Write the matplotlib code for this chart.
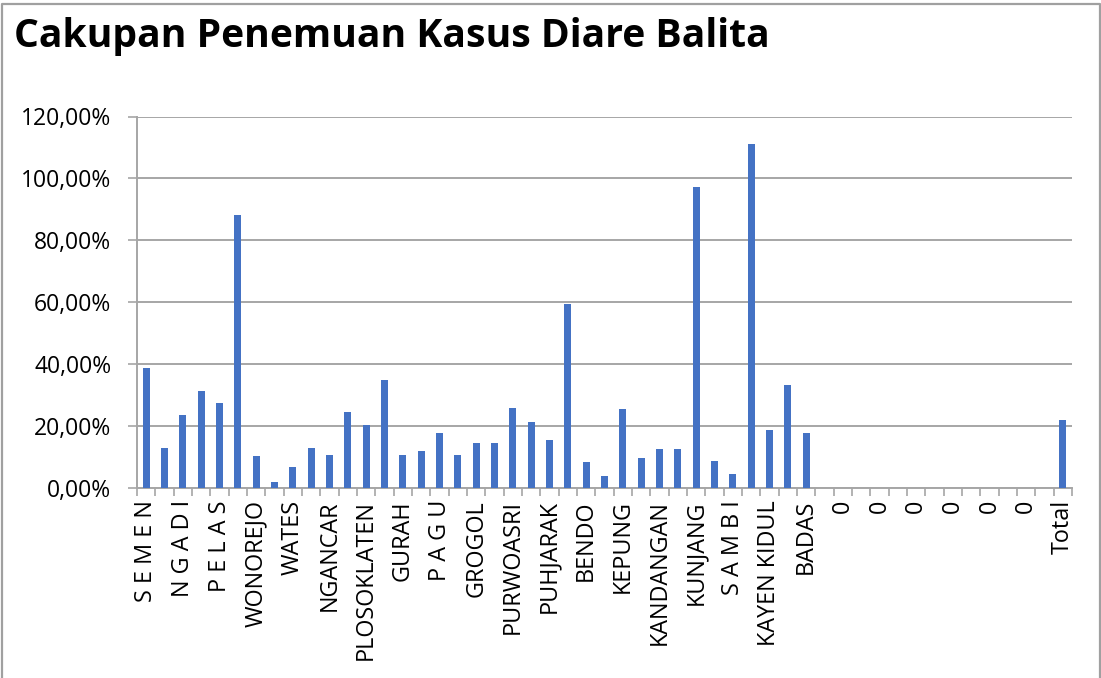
import numpy as np
import matplotlib
matplotlib.use("Agg")
import matplotlib.pyplot as plt
from matplotlib.lines import Line2D

# puskesmas names (only every other one gets a visible label on the axis)
puskesmas = ["S E M E N", "MOJO", "N G A D I", "KRAS", "P E L A S", "RINGINREJO",
             "WONOREJO", "KANDAT", "WATES", "PUNCU", "NGANCAR", "SIDOMULYO",
             "PLOSOKLATEN", "PARE", "GURAH", "BOGO", "P A G U", "TAROKAN",
             "GROGOL", "BANYAKAN", "PURWOASRI", "PAPAR", "PUHJARAK", "PLEMAHAN",
             "BENDO", "TIRON", "KEPUNG", "NGASEM", "KANDANGAN", "GAMPENGREJO",
             "KUNJANG", "KENCONG", "S A M B I", "ADAN ADAN", "KAYEN KIDUL",
             "SUMBERSARI", "BADAS"]
empty_rows = ["0"] * 13
labels = puskesmas + empty_rows + ["Total"]

# coverage of diarrhoea case finding in toddlers (%)
cakupan = [38.9, 13.1, 23.6, 31.5, 27.4, 88.2, 10.3, 1.9, 7.0, 13.1,
           10.6, 24.5, 20.4, 34.9, 10.6, 12.0, 17.7, 10.7, 14.5, 14.7,
           26.0, 21.3, 15.5, 59.6, 8.6, 3.9, 25.6, 9.8, 12.6, 12.6,
           97.1, 8.8, 4.7, 111.2, 18.9, 33.2, 17.7]
cakupan = cakupan + [0.0] * len(empty_rows) + [21.9]

y_ticks = [0, 20, 40, 60, 80, 100, 120]
y_ticklabels = [f"{v:.2f}%".replace(".", ",") for v in y_ticks]

grid_color = "#A6A6A6"
bar_color = "#4472C4"

fig = plt.figure(figsize=(11.01, 6.78), dpi=100)
ax = fig.add_axes([137 / 1101, 1 - 488.3 / 678, (1072 - 137) / 1101, (488.3 - 116.5) / 678])

x = np.arange(len(labels))
ax.bar(x, cakupan, width=0.38, color=bar_color, zorder=3)

ax.set_xlim(-0.5, len(labels) - 0.5)
ax.set_ylim(0, 120)

ax.set_yticks(y_ticks)
ax.set_yticklabels(y_ticklabels, fontfamily="Open Sans", fontsize=16.5)
ax.tick_params(axis="y", length=6.5, width=1.2, color=grid_color, pad=12)
ax.yaxis.grid(True, color=grid_color, linewidth=1.4, zorder=0)

# labels on every second category, tick marks on category boundaries
ax.set_xticks(x[::2])
ax.set_xticklabels(labels[::2], rotation=90, fontfamily="Open Sans", fontsize=16.8,
                   ha="center", va="top")
ax.tick_params(axis="x", which="major", length=0, pad=8.5)
ax.set_xticks(np.arange(-0.5, len(labels)), minor=True)
ax.tick_params(axis="x", which="minor", length=5.5, width=1.2, color=grid_color)

for side in ["top", "right"]:
    ax.spines[side].set_visible(False)
for side in ["left", "bottom"]:
    ax.spines[side].set_color(grid_color)
    ax.spines[side].set_linewidth(1.4)

fig.text(14 / 1101, 1 - 47 / 678, "Cakupan Penemuan Kasus Diare Balita",
         fontfamily="Open Sans", fontweight="bold", fontsize=28.2,
         ha="left", va="baseline")

# chart frame
frame_x = [1.5 / 1101, 1.5 / 1101, 1099.5 / 1101, 1099.5 / 1101]
frame_y = [0, 1 - 4 / 678, 1 - 4 / 678, 0]
fig.add_artist(Line2D(frame_x, frame_y, transform=fig.transFigure,
                      color="#A0A0A0", linewidth=1.6))

fig.savefig("out.png", dpi=100)
